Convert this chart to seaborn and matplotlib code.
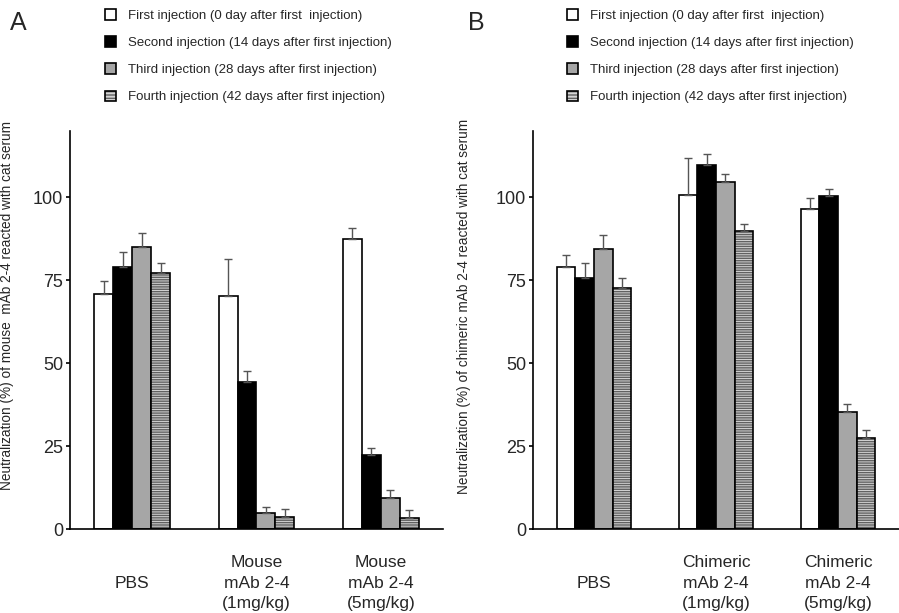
import pandas as pd
import seaborn as sns
import matplotlib.pyplot as plt
from matplotlib.patches import Patch

sns.set_style('white')
plt.rcParams['font.family'] = ['Liberation Sans', 'DejaVu Sans']
plt.rcParams['hatch.linewidth'] = 1.0

# data (mean and upper error, %)
injections = ['First injection (0 day after first  injection)',
              'Second injection (14 days after first injection)',
              'Third injection (28 days after first injection)',
              'Fourth injection (42 days after first injection)']
groups_a = ['PBS', 'Mouse\nmAb 2-4\n(1mg/kg)', 'Mouse\nmAb 2-4\n(5mg/kg)']
groups_b = ['PBS', 'Chimeric\nmAb 2-4\n(1mg/kg)', 'Chimeric\nmAb 2-4\n(5mg/kg)']

# rows = injection, columns = group
means_a = [[70.8, 70.1, 87.5],
           [78.8, 44.2, 22.2],
           [85.0, 4.7, 9.4],
           [77.0, 3.7, 3.4]]
errs_a = [[3.8, 11.3, 3.2],
          [4.8, 3.3, 2.3],
          [4.2, 2.0, 2.5],
          [3.1, 2.2, 2.3]]
means_b = [[78.8, 100.6, 96.5],
           [75.6, 109.6, 100.2],
           [84.5, 104.6, 35.1],
           [72.5, 89.8, 27.3]]
errs_b = [[3.8, 11.1, 3.1],
          [4.5, 3.3, 2.2],
          [4.0, 2.3, 2.5],
          [3.1, 2.2, 2.5]]

ylabel_a = 'Neutralization (%) of mouse  mAb 2-4 reacted with cat serum'
ylabel_b = 'Neutralization (%) of chimeric mAb 2-4 reacted with cat serum'

colors = ['white', 'black', '#a6a6a6', '#d4d4d4']
hatch_col = (0.38, 0.38, 0.38, 1)


def draw_panel(ax, groups, means, errs, ylabel, xmax):
    rows = []
    for i, inj in enumerate(injections):
        for j, g in enumerate(groups):
            rows.append({'group': g, 'injection': inj, 'value': means[i][j], 'err': errs[i][j]})
    df = pd.DataFrame(rows)
    sns.barplot(data=df, x='group', y='value', hue='injection', hue_order=injections,
                order=groups, palette=colors, saturation=1, width=0.61,
                edgecolor='black', linewidth=1.2, errorbar=None, legend=False, ax=ax)
    # patches come hue by hue
    for i in range(len(injections)):
        for j in range(len(groups)):
            p = ax.patches[i * len(groups) + j]
            if i == 3:
                p.set_hatch('-------')
                p._hatch_color = hatch_col
            xc = p.get_x() + p.get_width() / 2
            ax.errorbar(xc, p.get_height(), yerr=[[0], [errs[i][j]]], fmt='none',
                        ecolor='#555555', elinewidth=1.0, capsize=3, capthick=1.0, zorder=1)
    ax.set_ylim(0, 120)
    ax.set_xlim(-0.5, xmax)
    ax.set_yticks([0, 25, 50, 75, 100])
    ax.set_xticks([0, 1, 2])
    ax.set_xticklabels(groups, fontsize=12.5, linespacing=1.45)
    for lbl in ax.get_xticklabels():
        lbl.set_va('center')
    ax.set_xticks([0.5, 1.5, 2.5], minor=True)
    ax.tick_params(axis='x', which='major', length=0, pad=39)
    ax.tick_params(axis='x', which='minor', direction='in', length=4, width=1.2, color='black')
    ax.tick_params(axis='y', direction='out', length=3, width=1.2, color='black',
                   labelsize=13, pad=2, left=True)
    ax.set_xlabel('')
    ax.set_ylabel(ylabel, fontsize=9.8)
    sns.despine(ax=ax)
    for s in ['left', 'bottom']:
        ax.spines[s].set_color('black')
        ax.spines[s].set_linewidth(1.2)


fig = plt.figure(figsize=(8.99, 6.13), dpi=100)
W, H = 899, 613
ax_a = fig.add_axes([70 / W, (H - 529) / H, (443 - 70) / W, (529 - 130.7) / H])
ax_b = fig.add_axes([533 / W, (H - 529) / H, (899 - 533) / W, (529 - 130.7) / H])

draw_panel(ax_a, groups_a, means_a, errs_a, ylabel_a, 2.5)
draw_panel(ax_b, groups_b, means_b, errs_b, ylabel_b, 2.44)
ax_a.yaxis.set_label_coords((14 - 70) / 373, 0.56)
ax_b.yaxis.set_label_coords((471 - 533) / 366, 0.56)

fig.text(10 / W, 1 - 30 / H, 'A', fontsize=18)
fig.text(468 / W, 1 - 30 / H, 'B', fontsize=18)

handles = []
for c in colors:
    h = Patch(facecolor=c, edgecolor='black', linewidth=1.2)
    handles.append(h)
handles[3].set_hatch('-----')
handles[3]._hatch_color = hatch_col

for x0 in [100, 562]:
    fig.legend(handles, injections, loc='upper left', bbox_to_anchor=(x0 / W, 1 - 4 / H),
               frameon=False, fontsize=9.5, handlelength=0.85, handleheight=0.85,
               handletextpad=0.9, labelspacing=1.08, borderaxespad=0)

fig.savefig('out.png', dpi=100)
